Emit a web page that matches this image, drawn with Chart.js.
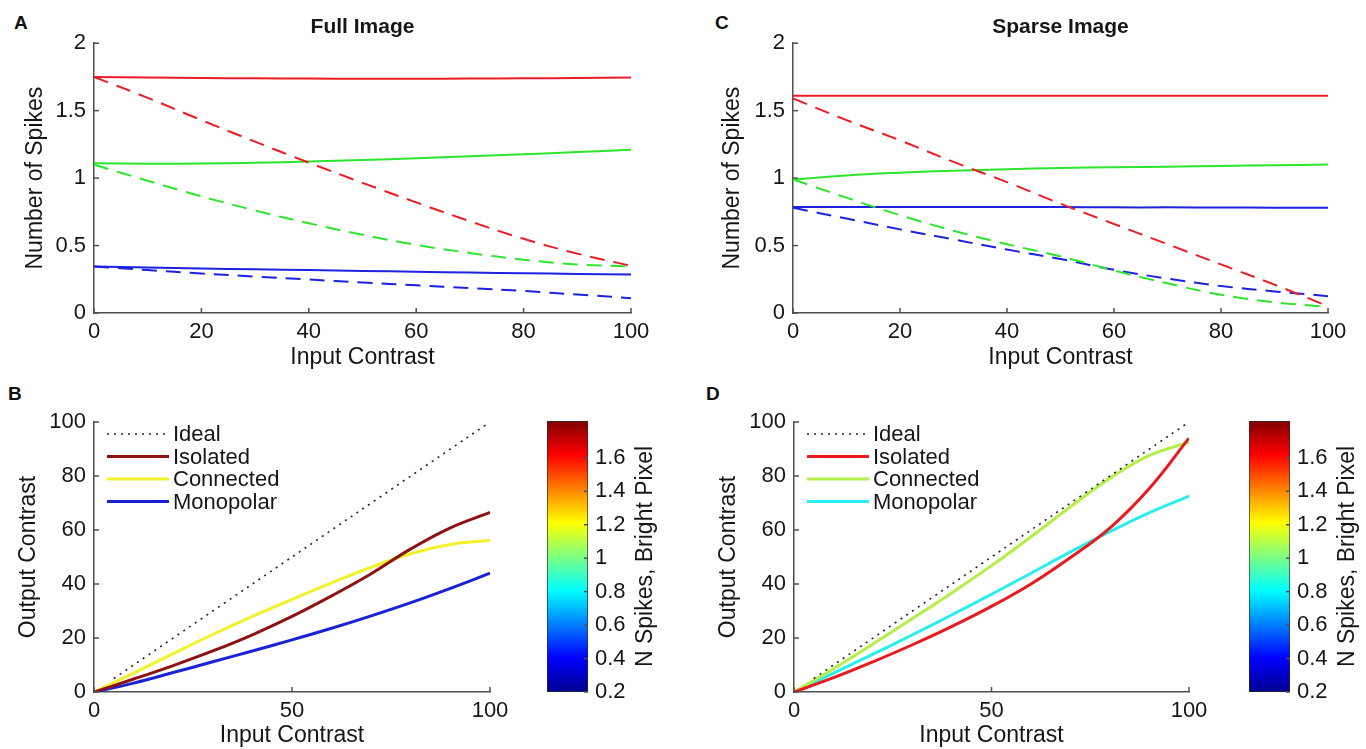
<!DOCTYPE html>
<html>
<head>
<meta charset="utf-8">
<script src="https://cdn.jsdelivr.net/npm/chart.js@4.4.1/dist/chart.umd.min.js"></script>
<style>
  html, body { margin: 0; padding: 0; background: #fff; }
  body { width: 1366px; height: 749px; position: relative; overflow: hidden; }
  canvas { position: absolute; }
  .letter { position: absolute; font: bold 19px "Liberation Sans", Arial, sans-serif; color: #111; line-height: 19px; }
</style>
</head>
<body>
<div class="letter" style="left:14px;top:13px">A</div>
<div class="letter" style="left:715px;top:13px">C</div>
<div class="letter" style="left:8px;top:384px">B</div>
<div class="letter" style="left:706px;top:384px">D</div>

<canvas id="cA" width="683" height="371" style="left:0;top:0"></canvas>
<canvas id="cC" width="683" height="371" style="left:683px;top:0"></canvas>
<canvas id="cB" width="683" height="379" style="left:0;top:370px"></canvas>
<canvas id="cD" width="683" height="379" style="left:683px;top:370px"></canvas>
<canvas id="cbB" width="163" height="379" style="left:520px;top:370px"></canvas>
<canvas id="cbD" width="163" height="379" style="left:1222px;top:370px"></canvas>

<script>
// input contrast samples
const contrast = [0, 10, 20, 30, 40, 50, 60, 70, 80, 90, 100];

// A - Full Image, number of spikes
const fullIsoSolid   = [1.75, 1.745, 1.742, 1.74, 1.738, 1.737, 1.737, 1.738, 1.74, 1.742, 1.745];
const fullIsoDash    = [1.75, 1.595, 1.43, 1.27, 1.115, 0.965, 0.82, 0.68, 0.55, 0.44, 0.35];
const fullConSolid   = [1.11, 1.107, 1.108, 1.114, 1.123, 1.134, 1.147, 1.162, 1.177, 1.193, 1.21];
const fullConDash    = [1.10, 0.98, 0.865, 0.76, 0.665, 0.58, 0.505, 0.445, 0.395, 0.36, 0.345];
const fullMonoSolid  = [0.345, 0.337, 0.33, 0.324, 0.318, 0.312, 0.306, 0.3, 0.295, 0.29, 0.285];
const fullMonoDash   = [0.345, 0.318, 0.293, 0.27, 0.248, 0.226, 0.205, 0.185, 0.163, 0.137, 0.11];

// C - Sparse Image, number of spikes
const sparseIsoSolid  = [1.61, 1.61, 1.61, 1.61, 1.61, 1.61, 1.61, 1.61, 1.61, 1.61, 1.61];
const sparseIsoDash   = [1.59, 1.43, 1.28, 1.12, 0.97, 0.81, 0.66, 0.51, 0.36, 0.21, 0.05];
const sparseConSolid  = [0.99, 1.02, 1.04, 1.055, 1.065, 1.075, 1.08, 1.085, 1.09, 1.095, 1.10];
const sparseConDash   = [0.99, 0.855, 0.725, 0.61, 0.51, 0.42, 0.315, 0.22, 0.135, 0.08, 0.045];
const sparseMonoSolid = [0.785, 0.785, 0.785, 0.785, 0.785, 0.785, 0.783, 0.783, 0.782, 0.781, 0.78];
const sparseMonoDash  = [0.78, 0.70, 0.62, 0.545, 0.47, 0.40, 0.32, 0.255, 0.20, 0.16, 0.125];

// B - Full Image, output contrast
const idealX = [5, 100];
const idealY = [5, 100];
const fullIsolated   = [0, 4.8, 9.8, 15.2, 21.2, 28, 35.6, 43.8, 53, 60.8, 66.5];
const fullConnected  = [0, 7, 14.2, 21.3, 28, 34.3, 40.4, 46.2, 51.2, 54.6, 56.2];
const fullMonopolar  = [0, 3.3, 7.2, 11.2, 15.2, 19.3, 23.6, 28.2, 33.1, 38.4, 44];

// D - Sparse Image, output contrast
const sparseIsolated  = [0, 5.3, 11.2, 17.5, 24.3, 31.7, 40, 49.8, 60.8, 75.5, 94];
const sparseConnected = [0, 8.6, 17.8, 27.2, 36.8, 46.8, 57.5, 68.6, 79.2, 87.6, 92.5];
const sparseMonopolar = [0, 7, 14, 21.2, 28.6, 36.2, 44, 51.9, 59.4, 66.4, 72.5];

// colorbar range, ticks and label
const cbMin = 0.2, cbMax = 1.82;
const cbTicks = [0.2, 0.4, 0.6, 0.8, 1, 1.2, 1.4, 1.6];
const cbLabel = 'N Spikes, Bright Pixel';

const FONT = '"Liberation Sans", Arial, Helvetica, sans-serif';
const TXT = '#161616';
const AXIS = '#4f4f4f';
Chart.defaults.font.family = FONT;
Chart.defaults.color = TXT;

const pts = (xs, ys) => xs.map((x, i) => ({ x: x, y: ys[i] }));
const fmt = v => String(+(+v).toFixed(2));

// MATLAB style ticks pointing into the axes
const inwardTicks = {
  id: 'inwardTicks',
  afterDraw(chart) {
    const { ctx, chartArea: a } = chart;
    ctx.save();
    ctx.strokeStyle = AXIS;
    ctx.lineWidth = 1.5;
    Object.values(chart.scales).forEach(s => {
      if (!s.options.display) return;
      s.ticks.forEach((t, i) => {
        const p = s.getPixelForTick(i);
        ctx.beginPath();
        if (s.position === 'bottom') { ctx.moveTo(p, a.bottom); ctx.lineTo(p, a.bottom - 5); }
        else if (s.position === 'left') { ctx.moveTo(a.left, p); ctx.lineTo(a.left + 5, p); }
        else if (s.position === 'right') { ctx.moveTo(a.right, p); ctx.lineTo(a.right - 4, p); }
        ctx.stroke();
      });
    });
    ctx.restore();
  }
};

// legend drawn inside the plot, top left
const insideLegend = {
  id: 'insideLegend',
  afterDatasetsDraw(chart, args, opts) {
    if (!opts.show) return;
    const { ctx, chartArea: a } = chart;
    ctx.save();
    ctx.font = '22px ' + FONT;
    ctx.textBaseline = 'middle';
    chart.data.datasets.forEach((ds, i) => {
      const y = a.top + 12 + i * 22.5;
      ctx.strokeStyle = ds.borderColor;
      ctx.lineWidth = ds.borderWidth;
      ctx.setLineDash(ds.borderDash || []);
      ctx.beginPath();
      ctx.moveTo(a.left + 13, y);
      ctx.lineTo(a.left + 75, y);
      ctx.stroke();
      ctx.setLineDash([]);
      ctx.fillStyle = TXT;
      ctx.fillText(ds.label, a.left + 79, y + 1);
    });
    ctx.restore();
  }
};

// colorbar label, reads bottom to top like matlab
const cbTitle = {
  id: 'cbTitle',
  afterDraw(chart, args, opts) {
    if (!opts.text) return;
    const s = chart.scales.y;
    const ctx = chart.ctx;
    ctx.save();
    ctx.translate(s.right - 13, (chart.chartArea.top + chart.chartArea.bottom) / 2);
    ctx.rotate(-Math.PI / 2);
    ctx.font = '23px ' + FONT;
    ctx.fillStyle = TXT;
    ctx.textAlign = 'center';
    ctx.textBaseline = 'middle';
    ctx.fillText(opts.text, 0, 0);
    ctx.restore();
  }
};
Chart.register(inwardTicks, insideLegend, cbTitle);

function line(label, ys, color, width, dash, xs) {
  return {
    label: label,
    data: pts(xs || contrast, ys),
    borderColor: color,
    borderWidth: width,
    borderDash: dash || [],
    pointRadius: 0,
    fill: false,
    tension: 0.4
  };
}

function makePanel(id, c) {
  return new Chart(document.getElementById(id), {
    type: 'line',
    data: { datasets: c.datasets },
    options: {
      responsive: false,
      animation: false,
      devicePixelRatio: 1,
      layout: { padding: c.pad },
      plugins: {
        legend: { display: false },
        tooltip: { enabled: false },
        title: c.title ? {
          display: true, text: c.title, fullSize: false,
          font: { size: 21, weight: 'bold' }, color: TXT,
          padding: { top: 15, bottom: 3 }
        } : { display: false },
        insideLegend: { show: !!c.legend }
      },
      scales: {
        x: {
          type: 'linear', min: 0, max: 100,
          ticks: { stepSize: c.xStep, font: { size: 22 }, color: TXT, padding: 6, maxRotation: 0, callback: fmt },
          grid: { display: false, drawTicks: false },
          border: { display: true, color: AXIS, width: 1.5 },
          title: { display: true, text: 'Input Contrast', font: { size: 23 }, color: TXT, padding: 0 },
          afterFit(s) { s.height = c.xH; }
        },
        y: {
          type: 'linear', min: c.yMin, max: c.yMax,
          ticks: { stepSize: c.yStep, font: { size: 22 }, color: TXT, padding: 8, callback: fmt },
          grid: { display: false, drawTicks: false },
          border: { display: true, color: AXIS, width: 1.5 },
          title: { display: true, text: c.yTitle, font: { size: 23 }, color: TXT, padding: 0 },
          afterFit(s) { s.width = c.yW; }
        }
      }
    }
  });
}

const jetStops = [[0, '#00008f'], [0.125, '#0000ff'], [0.375, '#00ffff'], [0.625, '#ffff00'], [0.875, '#ff0000'], [1, '#800000']];

function makeColorbar(id) {
  return new Chart(document.getElementById(id), {
    type: 'bar',
    data: {
      labels: [''],
      datasets: [{
        data: [[cbMin, cbMax]],
        backgroundColor(ctx) {
          const ch = ctx.chart, ys = ch.scales.y;
          if (!ys || !ch.chartArea) return '#888';
          const g = ch.ctx.createLinearGradient(0, ys.getPixelForValue(cbMin), 0, ys.getPixelForValue(cbMax));
          jetStops.forEach(s => g.addColorStop(s[0], s[1]));
          return g;
        },
        borderColor: '#2a2a2a',
        borderWidth: 1,
        borderSkipped: false,
        barPercentage: 1,
        categoryPercentage: 1
      }]
    },
    options: {
      responsive: false,
      animation: false,
      devicePixelRatio: 1,
      layout: { padding: { left: 27, right: 24, top: 51, bottom: 57 } },
      plugins: { legend: { display: false }, tooltip: { enabled: false }, cbTitle: { text: cbLabel } },
      scales: {
        x: { display: false },
        y: {
          position: 'right', min: cbMin, max: cbMax,
          afterBuildTicks(s) { s.ticks = cbTicks.map(v => ({ value: v })); },
          ticks: { font: { size: 22 }, color: TXT, padding: 7, callback: fmt },
          grid: { display: false, drawTicks: false },
          border: { display: false },
          afterFit(s) { s.width = 71; }
        }
      }
    }
  });
}

const RED = '#ec1c24', GREEN = '#2ee52e', BLUE = '#1c22e0';
const DASH = [15, 9];

makePanel('cA', {
  title: 'Full Image', yTitle: 'Number of Spikes',
  pad: { left: 22, right: 52, top: 0, bottom: 0 }, yW: 72, xH: 58,
  xStep: 20, yMin: 0, yMax: 2, yStep: 0.5,
  datasets: [
    line('Isolated', fullIsoSolid, RED, 2),
    line('Isolated dashed', fullIsoDash, RED, 2, DASH),
    line('Connected', fullConSolid, GREEN, 2),
    line('Connected dashed', fullConDash, GREEN, 2, DASH),
    line('Monopolar', fullMonoSolid, BLUE, 2),
    line('Monopolar dashed', fullMonoDash, BLUE, 2, DASH)
  ]
});

makePanel('cC', {
  title: 'Sparse Image', yTitle: 'Number of Spikes',
  pad: { left: 36, right: 38, top: 0, bottom: 0 }, yW: 74, xH: 58,
  xStep: 20, yMin: 0, yMax: 2, yStep: 0.5,
  datasets: [
    line('Isolated', sparseIsoSolid, RED, 2),
    line('Isolated dashed', sparseIsoDash, RED, 2, DASH),
    line('Connected', sparseConSolid, GREEN, 2),
    line('Connected dashed', sparseConDash, GREEN, 2, DASH),
    line('Monopolar', sparseMonoSolid, BLUE, 2),
    line('Monopolar dashed', sparseMonoDash, BLUE, 2, DASH)
  ]
});

makePanel('cB', {
  yTitle: 'Output Contrast', legend: true,
  pad: { left: 15, right: 193, top: 52, bottom: 0 }, yW: 79, xH: 57,
  xStep: 50, yMin: 0, yMax: 100, yStep: 20,
  datasets: [
    line('Ideal', idealY, '#222', 1.6, [2, 5], idealX),
    line('Isolated', fullIsolated, '#8e1212', 3),
    line('Connected', fullConnected, '#f2f22a', 3),
    line('Monopolar', fullMonopolar, '#1a22d6', 3)
  ]
});

makePanel('cD', {
  yTitle: 'Output Contrast', legend: true,
  pad: { left: 32, right: 177, top: 52, bottom: 0 }, yW: 79, xH: 57,
  xStep: 50, yMin: 0, yMax: 100, yStep: 20,
  datasets: [
    line('Ideal', idealY, '#222', 1.6, [2, 5], idealX),
    line('Isolated', sparseIsolated, '#e81a1e', 3),
    line('Connected', sparseConnected, '#b2f048', 3),
    line('Monopolar', sparseMonopolar, '#2aeeee', 3)
  ]
});

makeColorbar('cbB');
makeColorbar('cbD');
</script>
</body>
</html>
